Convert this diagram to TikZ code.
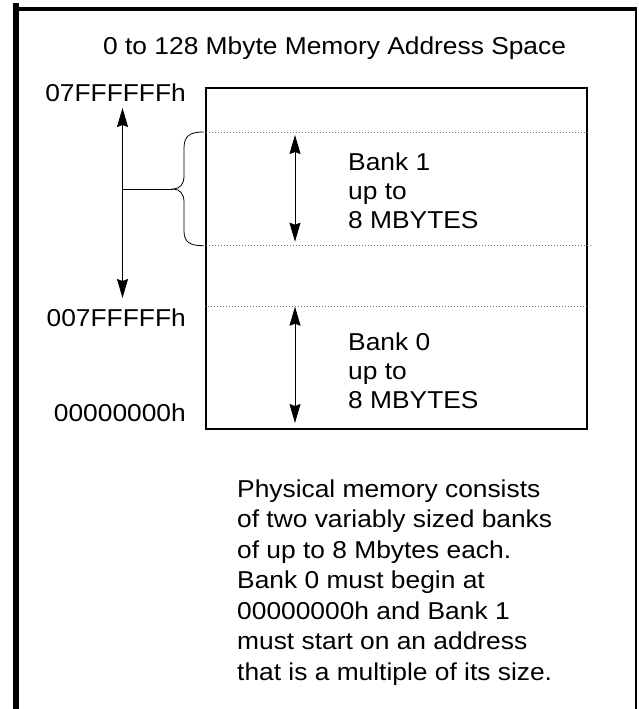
\documentclass[tikz,border=0pt]{standalone}
\usepackage{fontspec}
\setmainfont{Liberation Sans}[FakeStretch=1.08]
\usetikzlibrary{arrows.meta,positioning}

\begin{document}
\begin{tikzpicture}[
      x=1pt, y=-1pt,
      font=\fontsize{24.4}{29}\selectfont,
      addr/.style={inner sep=0pt, anchor=base east},
      banktxt/.style={inner sep=0pt, anchor=base west, align=left},
      memblock/.style={draw, line width=2pt, inner sep=0pt,
                       minimum width=381pt, minimum height=341pt},
      divider/.style={black!55, line width=0.8pt, dash pattern=on 1pt off 2pt},
      dimarr/.style={{Stealth[length=19pt,width=11pt,inset=2pt]}-{Stealth[length=19pt,width=11pt,inset=2pt]},
                     line width=0.9pt}
    ]
    \useasboundingbox (0,0) rectangle (639,709);
    % page frame
    \draw[line width=6pt] (16,3.3) -- (16,709);
    \draw[line width=4.3pt] (19,8.8) -- (637,8.8);
    \draw[line width=2.5pt] (636,7) -- (636,709);
    \node[banktxt] (title) at (103,55) {0 to 128 Mbyte Memory Address Space};
    \node[memblock] (mem) at (396.5,258.5) {};
    \node[addr] (topaddr) at (186,101.5) {07FFFFFFh};
    \node[addr] (midaddr) at (186,326.7) {007FFFFFh};
    \node[addr] (lowaddr) at (186,421.7) {00000000h};
    % multi-line texts sit on their last baseline
    \node[banktxt] (bankone) at (348,228) {Bank 1\\up to\\8 MBYTES};
    \node[banktxt] (bankzero) at (348,408) {Bank 0\\up to\\8 MBYTES};
    \node[banktxt, font=\fontsize{24.4}{30.5}\selectfont] (note) at (237,680)
      {Physical memory consists\\of two variably sized banks\\of up to 8 Mbytes each.\\Bank 0 must begin at\\00000000h and Bank 1\\must start on an address\\that is a multiple of its size.};
    % bank boundaries
    \coordinate (onetop) at (203,132);
    \coordinate (onebot) at (203,245.7);
    \coordinate (zerotop) at (mem.west |- 0,306.7);
    \draw[divider] (onetop) -- (mem.east |- onetop);
    \draw[divider] (onebot) -- ([xshift=4pt]mem.east |- onebot);
    \draw[divider] (zerotop) -- (mem.east |- zerotop);
    % bank sizes
    \coordinate (onehi) at (295,135);
    \coordinate (onelo) at (295,241.7);
    \coordinate (zerohi) at (295,306.7);
    \coordinate (zerolo) at (295,423);
    \draw[dimarr] (onehi) -- (onelo);
    \draw[dimarr] (zerohi) -- (zerolo);
    % whole address span and the brace
    \coordinate (spantop) at (122.5,108);
    \coordinate (spanbot) at (122.5,298);
    \coordinate (spanmid) at (122.5,189);
    \coordinate (bracetip) at (173,189);
    \draw[dimarr] (spantop) -- (spanbot);
    \draw[line width=0.9pt] (spanmid) -- (bracetip);
    \draw[line width=0.8pt] (onetop) .. controls (190,132) and (184,136) .. (184,148)
      -- (184,176) .. controls (184,184) and (180,189) .. (bracetip)
      .. controls (180,189) and (184,194) .. (184,202)
      -- (184,231) .. controls (184,242) and (190,245.7) .. (onebot);
  \end{tikzpicture}
\end{document}
